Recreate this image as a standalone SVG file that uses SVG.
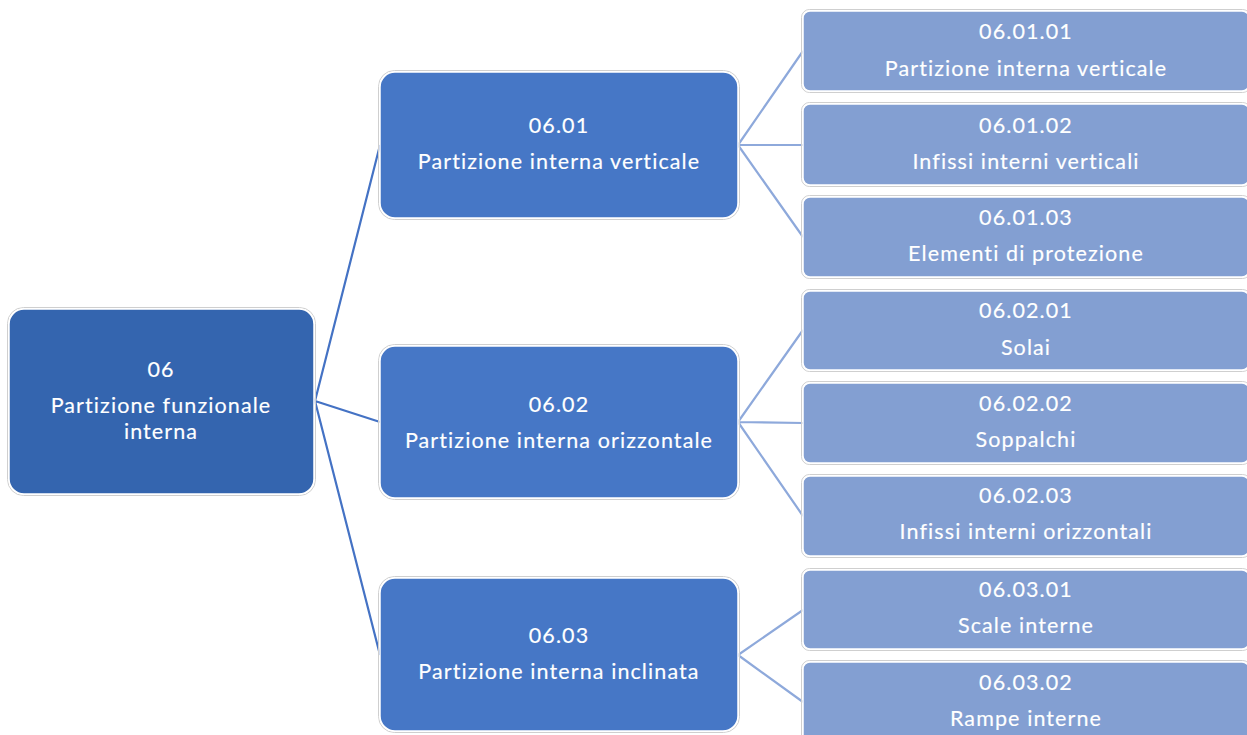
<svg xmlns="http://www.w3.org/2000/svg" width="1247" height="735" viewBox="0 0 1247 735">
<style>
.halo{fill:none;stroke:#cfcfcf;stroke-width:1}
.r0{fill:#3465AF;stroke:#ffffff;stroke-width:1.5}
.r1{fill:#4677C6;stroke:#ffffff;stroke-width:1.5}
.r2{fill:#839FD2;stroke:#ffffff;stroke-width:1.5}
text{font-family:Lato,"Noto Sans",sans-serif;font-size:21.5px;fill:#ffffff;stroke:#ffffff;stroke-width:0.15;text-anchor:middle;letter-spacing:1.1px}
.c1{stroke:#4472C4;stroke-width:2.2;fill:none}
.c2{stroke:#8EA9DB;stroke-width:2.2;fill:none}
</style>
<rect width="1247" height="735" fill="#ffffff"/>
<g id="connectors">
<path class="c1" d="M315 401 L380 145 M315 401 L380 422 M315 401 L380 655"/>
<path class="c2" d="M738 145 L803 51 M738 145 L803 145 M738 145 L803 237"/>
<path class="c2" d="M738 422 L803 330 M738 422 L803 423 M738 422 L803 516"/>
<path class="c2" d="M738 655 L803 610 M738 655 L803 702"/>
</g>
<g id="n06">
<rect class="halo" x="7.5" y="307.5" width="308" height="188" rx="16"/>
<rect class="r0" x="9" y="309" width="305" height="185" rx="15"/>
<text x="161" y="377">06</text>
<text x="161" y="413">Partizione funzionale</text>
<text x="161" y="439">interna</text>
</g>
<g id="n0601">
<rect class="halo" x="378.5" y="70.5" width="361" height="149" rx="16"/>
<rect class="r1" x="380" y="72" width="358" height="146" rx="15"/>
<text x="559" y="133">06.01</text>
<text x="559" y="169">Partizione interna verticale</text>
</g>
<g id="n0602">
<rect class="halo" x="378.5" y="344.5" width="361" height="155" rx="16"/>
<rect class="r1" x="380" y="346" width="358" height="152" rx="15"/>
<text x="559" y="412">06.02</text>
<text x="559" y="448">Partizione interna orizzontale</text>
</g>
<g id="n0603">
<rect class="halo" x="378.5" y="576.5" width="361" height="156" rx="16"/>
<rect class="r1" x="380" y="578" width="358" height="153" rx="15"/>
<text x="559" y="643">06.03</text>
<text x="559" y="679">Partizione interna inclinata</text>
</g>
<g id="n060101">
<rect class="halo" x="801.5" y="9.5" width="449" height="83" rx="8"/>
<rect class="r2" x="803" y="11" width="446" height="80" rx="7"/>
<text x="1026" y="39">06.01.01</text>
<text x="1026" y="76">Partizione interna verticale</text>
</g>
<g id="n060102">
<rect class="halo" x="801.5" y="102.5" width="449" height="84" rx="8"/>
<rect class="r2" x="803" y="104" width="446" height="81" rx="7"/>
<text x="1026" y="133">06.01.02</text>
<text x="1026" y="169">Infissi interni verticali</text>
</g>
<g id="n060103">
<rect class="halo" x="801.5" y="195.5" width="449" height="83" rx="8"/>
<rect class="r2" x="803" y="197" width="446" height="80" rx="7"/>
<text x="1026" y="225">06.01.03</text>
<text x="1026" y="261">Elementi di protezione</text>
</g>
<g id="n060201">
<rect class="halo" x="801.5" y="289.5" width="449" height="82" rx="8"/>
<rect class="r2" x="803" y="291" width="446" height="79" rx="7"/>
<text x="1026" y="318">06.02.01</text>
<text x="1026" y="355">Solai</text>
</g>
<g id="n060202">
<rect class="halo" x="801.5" y="381.5" width="449" height="83" rx="8"/>
<rect class="r2" x="803" y="383" width="446" height="80" rx="7"/>
<text x="1026" y="411">06.02.02</text>
<text x="1026" y="447">Soppalchi</text>
</g>
<g id="n060203">
<rect class="halo" x="801.5" y="474.5" width="449" height="83" rx="8"/>
<rect class="r2" x="803" y="476" width="446" height="80" rx="7"/>
<text x="1026" y="503">06.02.03</text>
<text x="1026" y="539">Infissi interni orizzontali</text>
</g>
<g id="n060301">
<rect class="halo" x="801.5" y="568.5" width="449" height="82" rx="8"/>
<rect class="r2" x="803" y="570" width="446" height="79" rx="7"/>
<text x="1026" y="597">06.03.01</text>
<text x="1026" y="633">Scale interne</text>
</g>
<g id="n060302">
<rect class="halo" x="801.5" y="660.5" width="449" height="83" rx="8"/>
<rect class="r2" x="803" y="662" width="446" height="80" rx="7"/>
<text x="1026" y="690">06.03.02</text>
<text x="1026" y="726">Rampe interne</text>
</g>
</svg>
